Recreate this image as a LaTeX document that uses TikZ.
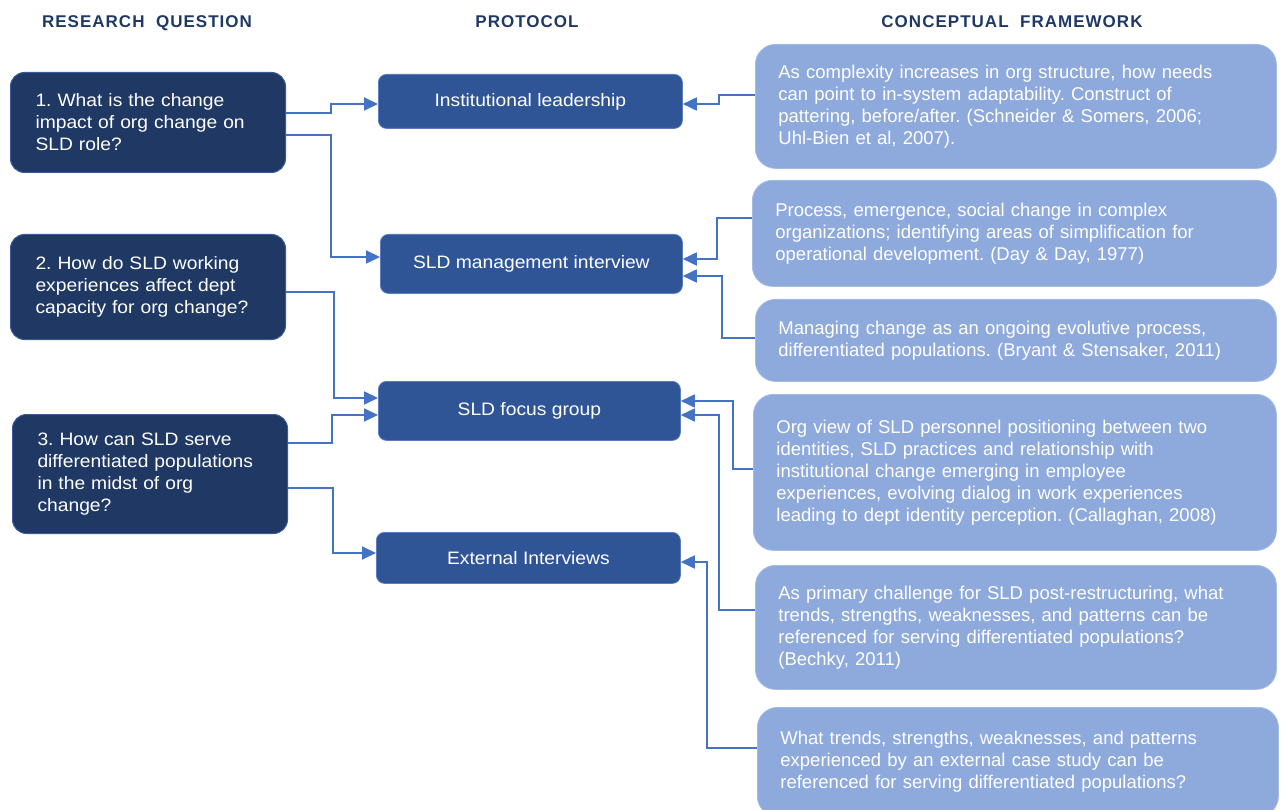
\documentclass[tikz,border=0pt]{standalone}
\usepackage{fontspec}
\setmainfont{Liberation Sans}
\newfontfamily\hdrfont[LetterSpace=6]{Liberation Sans}
\newfontfamily\widefont[FakeStretch=1.07]{Liberation Sans}
\usetikzlibrary{arrows.meta}
\definecolor{navy}{HTML}{1F3864}
\definecolor{navyedge}{HTML}{3A5A9A}
\definecolor{pblue}{HTML}{2F5597}
\definecolor{pedge}{HTML}{5B7DBF}
\definecolor{lblue}{HTML}{8EA9DB}
\definecolor{ledge}{HTML}{A7BCE4}
\definecolor{conn}{HTML}{4472C4}
\frenchspacing
\begin{document}
\begin{tikzpicture}[x=1pt,y=-1pt,
  hdr/.style={anchor=base,text=navy,font=\hdrfont\fontsize{17}{20}\selectfont\bfseries},
  qbox/.style={draw=navyedge,line width=1pt,fill=navy,rounded corners=14pt,anchor=north west,
    text=white,align=left,font=\widefont\fontsize{18}{22}\selectfont,inner xsep=25pt,inner ysep=0pt,
    text width=225pt,minimum width=275pt},
  pbox/.style={draw=pedge,line width=0.8pt,fill=pblue,rounded corners=8pt,anchor=north west,
    text=white,align=center,font=\widefont\fontsize{18}{22}\selectfont,inner sep=0pt},
  rbox/.style={draw=ledge,line width=0.8pt,fill=lblue,rounded corners=20pt,anchor=north west,
    text=white,align=left,font=\fontsize{18.5}{22}\selectfont,inner xsep=23pt,inner ysep=0pt},
  link/.style={draw=conn,line width=1.8pt,-{Triangle[length=14pt,width=13pt]}}
]
\useasboundingbox (0,0) rectangle (1282,810);

% headers
\node[hdr] (h1) at (147,28) {RESEARCH\ \ QUESTION};
\node[hdr] (h2) at (527,28) {PROTOCOL};
\node[hdr] (h3) at (1012,28) {CONCEPTUAL\ \ FRAMEWORK};

% research questions
\node[qbox,minimum height=100pt] (Q1) at (10,72) {1. What is the change\\impact of org change on\\SLD role?};
\node[qbox,minimum height=105pt] (Q2) at (10,234) {2. How do SLD working\\experiences affect dept\\capacity for org change?};
\node[qbox,minimum height=119pt] (Q3) at (12,414) {3. How can SLD serve\\differentiated populations\\in the midst of org\\change?};

% protocol
\node[pbox,minimum width=304pt,minimum height=54pt] (IL) at (378,74) {Institutional leadership};
\node[pbox,minimum width=302pt,minimum height=59pt] (SM) at (380,234) {SLD management interview};
\node[pbox,minimum width=302pt,minimum height=59pt] (FG) at (378,381) {SLD focus group};
\node[pbox,minimum width=304pt,minimum height=51pt] (EI) at (376,532) {External Interviews};

% conceptual framework
\node[rbox,text width=475pt,minimum height=124pt] (R1) at (755,44) {As complexity increases in org structure, how needs\\can point to in-system adaptability. Construct of\\pattering, before/after. (Schneider \& Somers, 2006;\\Uhl-Bien et al, 2007).};
\node[rbox,text width=478pt,minimum height=106pt] (R2) at (752,180) {Process, emergence, social change in complex\\organizations; identifying areas of simplification for\\operational development. (Day \& Day, 1977)};
\node[rbox,text width=475pt,minimum height=82pt] (R3) at (755,299) {Managing change as an ongoing evolutive process,\\differentiated populations. (Bryant \& Stensaker, 2011)};
\node[rbox,text width=477pt,minimum height=156pt] (R4) at (753,394) {Org view of SLD personnel positioning between two\\identities, SLD practices and relationship with\\institutional change emerging in employee\\experiences, evolving dialog in work experiences\\leading to dept identity perception. (Callaghan, 2008)};
\node[rbox,text width=475pt,minimum height=124pt] (R5) at (755,565) {As primary challenge for SLD post-restructuring, what\\trends, strengths, weaknesses, and patterns can be\\referenced for serving differentiated populations?\\(Bechky, 2011)};
\node[rbox,text width=475pt,minimum height=109pt] (R6) at (757,707) {What trends, strengths, weaknesses, and patterns\\experienced by an external case study can be\\referenced for serving differentiated populations?};

% connectors left
\draw[link] ([yshift=-41pt]Q1.north east) -- ++(45,0) |- ([yshift=-30pt]IL.north west);
\draw[link] ([yshift=-63pt]Q1.north east) -- ++(45,0) |- ([yshift=-23pt]SM.north west);
\draw[link] ([yshift=-58pt]Q2.north east) -- ++(48,0) |- ([yshift=-17pt]FG.north west);
\draw[link] ([yshift=-29pt]Q3.north east) -- ++(44,0) |- ([yshift=-34pt]FG.north west);
\draw[link] ([yshift=-74pt]Q3.north east) -- ++(45,0) |- ([yshift=-21pt]EI.north west);

% connectors right
\draw[link] ([yshift=-51pt]R1.north west) -- ++(-36,0) |- ([yshift=-30pt]IL.north east);
\draw[link] ([yshift=-38pt]R2.north west) -- ++(-35,0) |- ([yshift=-25pt]SM.north east);
\draw[link] ([yshift=-39pt]R3.north west) -- ++(-33,0) |- ([yshift=-42pt]SM.north east);
\draw[link] ([yshift=-75pt]R4.north west) -- ++(-20,0) |- ([yshift=-20pt]FG.north east);
\draw[link] ([yshift=-45pt]R5.north west) -- ++(-36,0) |- ([yshift=-34pt]FG.north east);
\draw[link] ([yshift=-41pt]R6.north west) -- ++(-50,0) |- ([yshift=-30pt]EI.north east);
\end{tikzpicture}
\end{document}
